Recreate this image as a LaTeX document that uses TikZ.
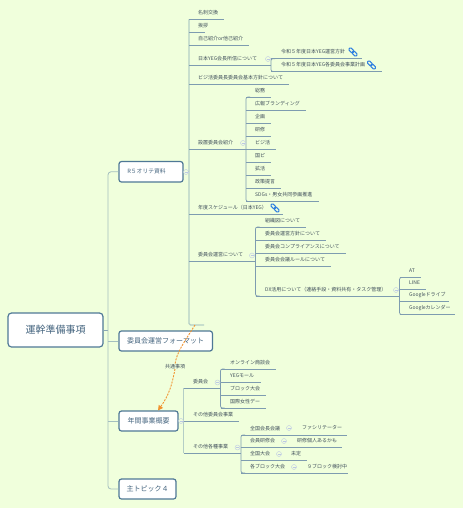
\documentclass[tikz,border=0pt]{standalone}
\usepackage{fontspec}
\setmainfont{Noto Sans CJK JP}
\usetikzlibrary{arrows.meta,calc}
\definecolor{bgc}{HTML}{F0FFDC}
\definecolor{linec}{HTML}{7E9CB0}
\definecolor{trunkc}{HTML}{B4CEC6}
\definecolor{txtc}{HTML}{3E4E5A}
\definecolor{boxc}{HTML}{4F7896}
\definecolor{boxt}{HTML}{45657F}
\definecolor{linkc}{HTML}{2F7FE0}
\definecolor{relc}{HTML}{F0922E}
\definecolor{circc}{HTML}{BCC8E4}
\tikzset{
  topicbox/.style={draw=boxc,fill=white,line width=1.2pt,rounded corners=2.5pt,inner sep=0pt,text=boxt,font=\fontsize{7}{8}\selectfont,align=center},
  rootbox/.style={draw=boxc,fill=white,line width=1.2pt,rounded corners=3.5pt,inner sep=0pt,text=boxt,font=\fontsize{10}{12}\selectfont,align=center},
  itemtext/.style={anchor=west,inner sep=0pt,text=txtc,font=\fontsize{5}{6}\selectfont},
  branch/.style={draw=linec,line width=0.7pt},
  trunk/.style={draw=trunkc,line width=1.2pt},
  subtrunk/.style={draw=linec,line width=0.7pt,rounded corners=2pt},
  maintrunk/.style={draw=trunkc!70!linec,line width=0.8pt,rounded corners=3pt},
  collapse/.style={circle,draw=circc,fill=bgc,line width=0.4pt,minimum size=5pt,inner sep=0pt},
  rel/.style={draw=relc,line width=0.9pt,dash pattern=on 2pt off 1.2pt},
}
% name, line start x, text x, line y, line end x, text
\newcommand{\itm}[6]{%
  \coordinate (#1-s) at (#2,#4);
  \coordinate (#1-e) at (#5,#4);
  \draw[branch] (#1-s) -- (#1-e);
  \node[itemtext] (#1) at (#3,#4-6.8) {#6};
}
% name, x, y
\newcommand{\cmk}[3]{%
  \node[collapse] (#1) at (#2,#3) {};
  \draw[draw=circc,line width=0.4pt] ($(#1)+(-1.5,0)$) -- ($(#1)+(1.5,0)$);
}
% x, y
\newcommand{\lnk}[2]{%
  \begin{scope}[shift={(#1,#2)},rotate=-45]
    \draw[linkc,line width=1pt,rounded corners=1pt] (-5,-1.5) rectangle (0.5,1.5);
    \draw[linkc,line width=1pt,rounded corners=1pt] (-0.5,-1.5) rectangle (5,1.5);
  \end{scope}
}
% first, last item
\newcommand{\stk}[2]{%
  \draw[subtrunk] ($(#1-s)+(4,0)$) -- (#1-s) -- (#2-s) -- ($(#2-s)+(4,0)$);
}
\begin{document}
\begin{tikzpicture}[x=1pt,y=-1pt]
\fill[bgc] (0,0) rectangle (463,508);
\useasboundingbox (0,0) rectangle (463,508);

% R5 trunk
\coordinate (t1) at (189,19.3);
\coordinate (t2) at (189,325);
\coordinate (t3) at (204,325);
\draw[trunk,rounded corners=1.5pt] (t1) -- (t2) -- (t3);

\itm{a1}{189}{198}{19.3}{224}{名刺交換}
\itm{a2}{189}{198}{32.5}{205}{挨拶}
\itm{a3}{189}{198}{45}{249}{自己紹介or他己紹介}
\itm{a4}{189}{198}{65}{271}{日本YEG会長所信について}
\itm{a5}{189}{198}{84.5}{289}{ビジ活委員長委員会基本方針について}
\itm{a6}{189}{198}{149.5}{246}{設置委員会紹介}
\itm{a7}{189}{198}{214.5}{283}{年度スケジュール（日本YEG）}
\itm{a8}{189}{198}{261.5}{255.5}{委員会運営について}

\itm{b1}{271}{281}{58.7}{361.5}{令和５年度日本YEG運営方針}
\itm{b2}{271}{281}{71.5}{381.5}{令和５年度日本YEG各委員会事業計画}
\stk{b1}{b2}
\cmk{cb}{268}{59}
\lnk{353}{52}
\lnk{371.5}{65}

\itm{c1}{246}{255}{97}{271}{総務}
\itm{c2}{246}{255}{110.5}{306}{広報ブランディング}
\itm{c3}{246}{255}{123.5}{271}{企画}
\itm{c4}{246}{255}{136}{271}{研修}
\itm{c5}{246}{255}{149.5}{276}{ビジ活}
\itm{c6}{246}{255}{162.5}{271}{国ピ}
\itm{c7}{246}{255}{175.5}{271}{拡活}
\itm{c8}{246}{255}{188}{281}{政策提言}
\itm{c9}{246}{255}{201.5}{319}{SDGs・男女共同参画推進}
\stk{c1}{c9}
\cmk{cc}{243}{143}
\lnk{275}{208}

\itm{d1}{255.5}{265}{227}{306}{組織図について}
\itm{d2}{255.5}{265}{240}{326}{委員会運営方針について}
\itm{d3}{255.5}{265}{253.5}{346}{委員会コンプライアンスについて}
\itm{d4}{255.5}{265}{266.5}{331}{委員会会議ルールについて}
\itm{d5}{255.5}{265}{296}{399.5}{DX活用について（連絡手段・資料共有・タスク管理）}
\stk{d1}{d5}
\cmk{cd}{252}{255.5}

\itm{e1}{399.5}{409}{277.5}{421}{AT}
\itm{e2}{399.5}{409}{289.5}{426}{LINE}
\itm{e3}{399.5}{409}{301.5}{449}{Googleドライブ}
\itm{e4}{399.5}{409}{314.5}{455}{Googleカレンダー}
\stk{e1}{e4}
\cmk{ce}{396}{290}

% Annual subtree
\coordinate (f0) at (183.5,388);
\coordinate (f9) at (183.5,453);
\draw[trunk] (f0) -- (f9);
\itm{f1}{183.5}{193}{388}{220.5}{委員会}
\itm{f2}{178}{193}{421}{239}{その他委員会事業}
\itm{f3}{183.5}{193}{453}{241}{その他各種事業}

\itm{g1}{220.5}{230}{369}{276}{オンライン商談会}
\itm{g2}{220.5}{230}{382}{261}{YEGモール}
\itm{g3}{220.5}{230}{395}{266}{ブロック大会}
\itm{g4}{220.5}{230}{408}{266}{国際女性デー}
\stk{g1}{g4}
\cmk{cg}{217.5}{382.5}
\cmk{cf}{237.5}{447.5}

\itm{h1}{241}{250}{435}{347}{全国会長会議}
\itm{h2}{241}{250}{447.5}{342}{会員研修会}
\itm{h3}{241}{250}{460}{307}{全国大会}
\itm{h4}{241}{250}{473}{348}{各ブロック大会}
\stk{h1}{h4}
\node[itemtext] (h1x) at (302,428) {ファシリテーター};
\node[itemtext] (h2x) at (297,440.7) {研修個人あるかも};
\node[itemtext] (h3x) at (291,453.2) {未定};
\node[itemtext] (h4x) at (307,466.2) {９ブロック検討中};
\cmk{ch1}{289}{428}
\cmk{ch2}{284}{441}
\cmk{ch3}{279}{454}
\cmk{ch4}{294}{467}

% main boxes
\coordinate (rj) at (108,330);
\node[rootbox,minimum width=95pt,minimum height=34pt] (root) at (55.5,330) {\raisebox{1.5pt}{運幹準備事項}};
\node[topicbox,minimum width=64pt,minimum height=20.5pt,font=\fontsize{5.8}{7}\selectfont] (t-r5) at (151,171.8) {\hspace*{-9pt}R５オリテ資料};
\node[topicbox,minimum width=93.5pt,minimum height=20pt] (t-fmt) at (165.7,341) {委員会運営フォーマット};
\node[topicbox,minimum width=59pt,minimum height=20pt] (t-year) at (148.5,421) {年間事業概要};
\node[topicbox,minimum width=57pt,minimum height=20pt] (t-main) at (147.5,489) {主トピック４};

\draw[branch,draw=linec!80!trunkc] (root.east) -- (rj);
\draw[maintrunk] (t-r5.west) -- (108,171.8) -- (108,489) -- (t-main.west);
\draw[maintrunk] (108,341) -- (t-fmt.west);
\draw[maintrunk] (108,421) -- (t-year.west);
\draw[branch,draw=linec!60!trunkc] (t-r5.east) -- (189,171.8);
\cmk{cr}{186}{172}
\cmk{cy}{181}{421}

% relationship
\coordinate (ra) at (195,325);
\coordinate (rb) at (158,410.5);
\node[inner sep=0pt,text=txtc,font=\fontsize{5}{6}\selectfont] (rl) at (175,366.5) {共通事項};
\draw[rel] (ra) .. controls (183,344) and (177,352) .. (rl.north);
\draw[rel,-{Triangle[length=5pt,width=5pt]}] (rl.south) .. controls (172,385) and (169,395) .. (rb);
\end{tikzpicture}
\end{document}
